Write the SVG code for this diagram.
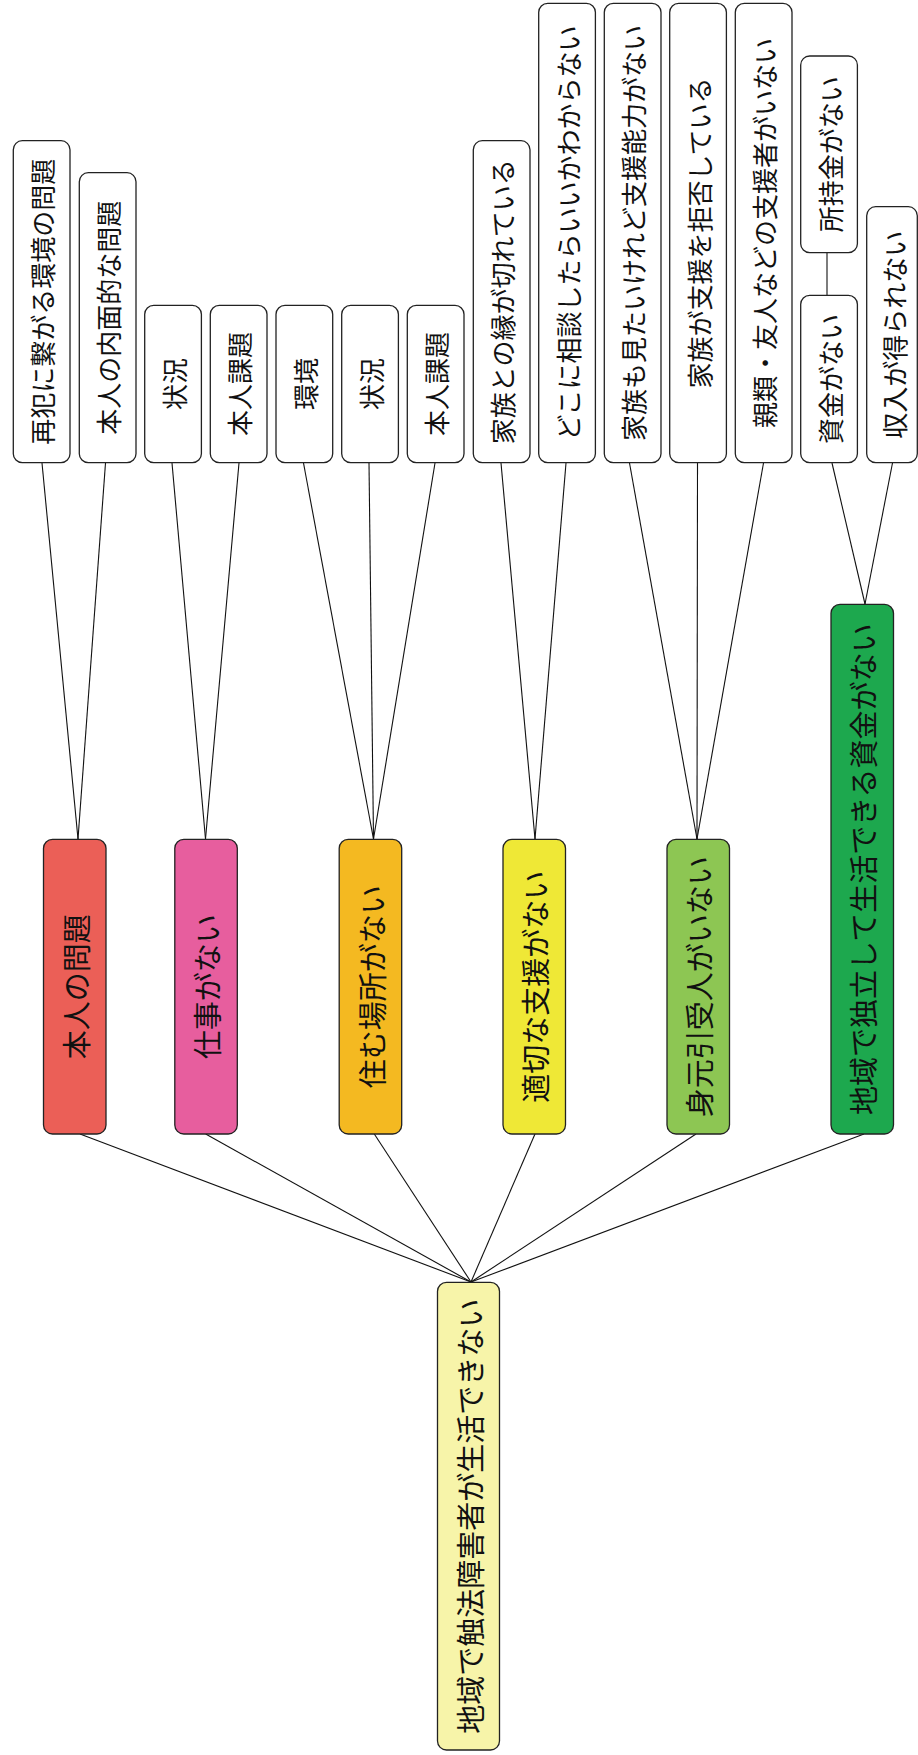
<svg xmlns="http://www.w3.org/2000/svg" width="918" height="1755" viewBox="0 0 918 1755">
<style>
.box{stroke:#222;stroke-width:1.3}
.leaf{fill:#fff}
.t{font-family:"Noto Sans CJK JP","Noto Sans",sans-serif;fill:#111;text-anchor:middle;dominant-baseline:central}
.ts{font-size:26px}
.tm{font-size:29px}
.c{stroke:#111;stroke-width:1.1;fill:none}
</style>
<rect width="918" height="1755" fill="#fff"/>
<g id="connectors">
<line class="c" x1="42" y1="463" x2="78" y2="839"/>
<line class="c" x1="105.5" y1="463" x2="78" y2="839"/>
<line class="c" x1="172" y1="463" x2="205.5" y2="839"/>
<line class="c" x1="239" y1="463" x2="205.5" y2="839"/>
<line class="c" x1="303.5" y1="463" x2="373.5" y2="839"/>
<line class="c" x1="369" y1="463" x2="373.5" y2="839"/>
<line class="c" x1="435" y1="463" x2="373.5" y2="839"/>
<line class="c" x1="501" y1="463" x2="535" y2="839"/>
<line class="c" x1="566" y1="463" x2="535" y2="839"/>
<line class="c" x1="629.5" y1="463" x2="697" y2="839"/>
<line class="c" x1="697.5" y1="463" x2="697" y2="839"/>
<line class="c" x1="763.5" y1="463" x2="697" y2="839"/>
<line class="c" x1="832" y1="463" x2="865" y2="604"/>
<line class="c" x1="892.5" y1="463" x2="865" y2="604"/>
<line class="c" x1="827" y1="252.7" x2="827" y2="295.3"/>
<line class="c" x1="80" y1="1134" x2="471" y2="1282"/>
<line class="c" x1="205.7" y1="1134" x2="471" y2="1282"/>
<line class="c" x1="374.3" y1="1134" x2="471" y2="1282"/>
<line class="c" x1="535" y1="1134" x2="471" y2="1282"/>
<line class="c" x1="696" y1="1134" x2="471" y2="1282"/>
<line class="c" x1="864" y1="1134" x2="471" y2="1282"/>
</g>
<g id="leaf1"><rect class="box leaf" x="13.3" y="140.7" width="56.7" height="322" rx="9"/><text class="t ts" transform="translate(41.7 301.7) rotate(-90)">再犯に繋がる環境の問題</text></g>
<g id="leaf2"><rect class="box leaf" x="79.3" y="172.7" width="56.7" height="290" rx="9"/><text class="t ts" transform="translate(107.7 317.7) rotate(-90)">本人の内面的な問題</text></g>
<g id="leaf3"><rect class="box leaf" x="144.7" y="305.3" width="56.7" height="157.4" rx="9"/><text class="t ts" transform="translate(173 384) rotate(-90)">状況</text></g>
<g id="leaf4"><rect class="box leaf" x="210.3" y="305.3" width="56.7" height="157.4" rx="9"/><text class="t ts" transform="translate(238.7 384) rotate(-90)">本人課題</text></g>
<g id="leaf5"><rect class="box leaf" x="276" y="305.3" width="56.7" height="157.4" rx="9"/><text class="t ts" transform="translate(304.3 384) rotate(-90)">環境</text></g>
<g id="leaf6"><rect class="box leaf" x="341.7" y="305.3" width="56.7" height="157.4" rx="9"/><text class="t ts" transform="translate(370 384) rotate(-90)">状況</text></g>
<g id="leaf7"><rect class="box leaf" x="407.3" y="305.3" width="56.7" height="157.4" rx="9"/><text class="t ts" transform="translate(435.7 384) rotate(-90)">本人課題</text></g>
<g id="leaf8"><rect class="box leaf" x="473.3" y="140.7" width="56.7" height="322" rx="9"/><text class="t ts" transform="translate(501.7 301.7) rotate(-90)">家族との縁が切れている</text></g>
<g id="leaf9"><rect class="box leaf" x="538.7" y="3.3" width="56.7" height="459.4" rx="9"/><text class="t ts" transform="translate(567 233) rotate(-90)">どこに相談したらいいかわからない</text></g>
<g id="leaf10"><rect class="box leaf" x="604.3" y="3.3" width="56.7" height="459.4" rx="9"/><text class="t ts" transform="translate(632.7 233) rotate(-90)">家族も見たいけれど支援能力がない</text></g>
<g id="leaf11"><rect class="box leaf" x="669.7" y="3.3" width="56.7" height="459.4" rx="9"/><text class="t ts" transform="translate(698 233) rotate(-90)">家族が支援を拒否している</text></g>
<g id="leaf12"><rect class="box leaf" x="735.3" y="3.3" width="56.7" height="459.4" rx="9"/><text class="t ts" transform="translate(763.7 233) rotate(-90)">親類・友人などの支援者がいない</text></g>
<g id="leaf13"><rect class="box leaf" x="800.7" y="56" width="56.7" height="196.7" rx="9"/><text class="t ts" transform="translate(829 154.3) rotate(-90)">所持金がない</text></g>
<g id="leaf14"><rect class="box leaf" x="800.7" y="295.3" width="56.7" height="167.4" rx="9"/><text class="t ts" transform="translate(829 379) rotate(-90)">資金がない</text></g>
<g id="leaf15"><rect class="box leaf" x="866.7" y="206.7" width="50.6" height="256" rx="9"/><text class="t ts" transform="translate(893.5 334.7) rotate(-90)">収入が得られない</text></g>
<g id="mid1"><rect class="box" fill="#EB5F57" x="43.5" y="839.3" width="62.5" height="294.7" rx="9"/><text class="t tm" transform="translate(74.8 986.7) rotate(-90)">本人の問題</text></g>
<g id="mid2"><rect class="box" fill="#E75E9E" x="174.8" y="839.3" width="62.5" height="294.7" rx="9"/><text class="t tm" transform="translate(206 986.7) rotate(-90)">仕事がない</text></g>
<g id="mid3"><rect class="box" fill="#F4B921" x="339.2" y="839.3" width="62.5" height="294.7" rx="9"/><text class="t tm" transform="translate(370.5 986.7) rotate(-90)">住む場所がない</text></g>
<g id="mid4"><rect class="box" fill="#EFE836" x="503" y="839.3" width="62.5" height="294.7" rx="9"/><text class="t tm" transform="translate(534.2 986.7) rotate(-90)">適切な支援がない</text></g>
<g id="mid5"><rect class="box" fill="#8DC653" x="667" y="839.3" width="62.5" height="294.7" rx="9"/><text class="t tm" transform="translate(698.2 986.7) rotate(-90)">身元引受人がいない</text></g>
<g id="mid6"><rect class="box" fill="#1DA84E" x="831" y="604.3" width="62.5" height="529.7" rx="9"/><text class="t tm" transform="translate(862.2 869.2) rotate(-90)">地域で独立して生活できる資金がない</text></g>
<g id="root"><rect class="box" fill="#F7F4A9" x="437.5" y="1282.3" width="62" height="467.7" rx="9"/><text class="t tm" transform="translate(468.5 1516.2) rotate(-90)">地域で触法障害者が生活できない</text></g>
</svg>
